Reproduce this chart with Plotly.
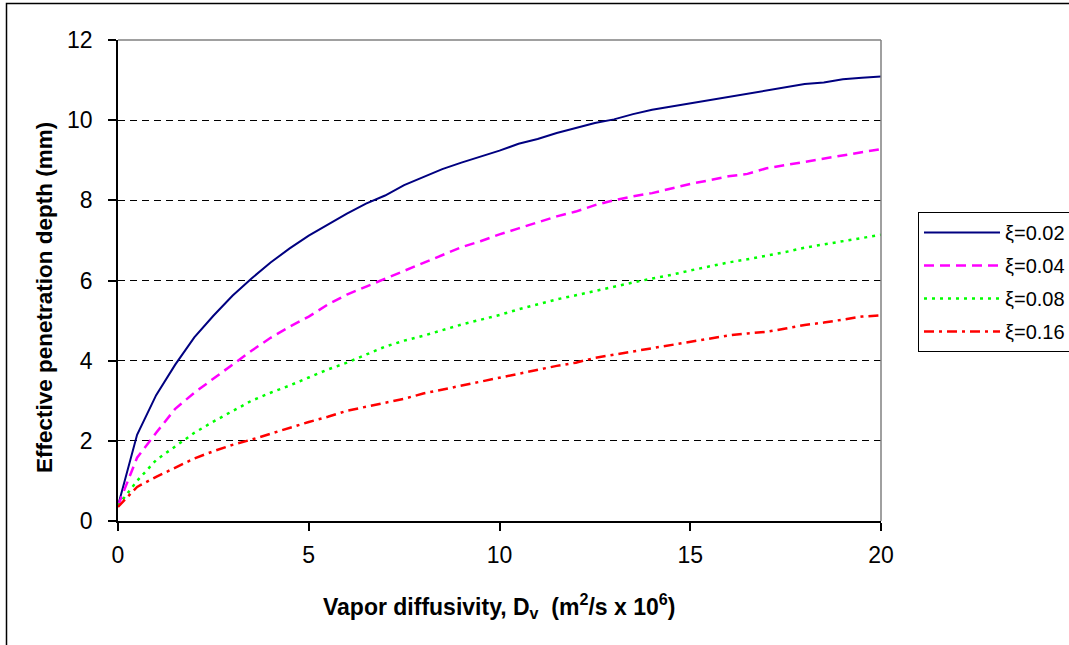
import plotly.graph_objects as go

x_vals = [0, 0.5, 1, 1.5, 2, 2.5, 3, 3.5, 4, 4.5, 5, 5.5, 6, 6.5, 7, 7.5, 8, 8.5, 9, 9.5,
          10, 10.5, 11, 11.5, 12, 12.5, 13, 13.5, 14, 14.5, 15, 15.5, 16, 16.5, 17, 17.5,
          18, 18.5, 19, 19.5, 20]

xi_002 = [0.38, 2.15, 3.14, 3.9, 4.58, 5.12, 5.62, 6.05, 6.45, 6.8, 7.12, 7.4, 7.67, 7.92,
          8.12, 8.38, 8.58, 8.78, 8.94, 9.09, 9.24, 9.41, 9.53, 9.68, 9.8, 9.93, 10.02,
          10.15, 10.26, 10.34, 10.42, 10.5, 10.58, 10.66, 10.74, 10.82, 10.9, 10.94,
          11.02, 11.06, 11.09]

xi_004 = [0.38, 1.58, 2.2, 2.8, 3.2, 3.55, 3.9, 4.25, 4.57, 4.85, 5.1, 5.4, 5.65, 5.85,
          6.04, 6.25, 6.45, 6.65, 6.83, 6.98, 7.15, 7.3, 7.45, 7.6, 7.72, 7.88, 8.0, 8.1,
          8.18, 8.3, 8.41, 8.5, 8.6, 8.66, 8.8, 8.88, 8.96, 9.04, 9.12, 9.2, 9.28]

xi_008 = [0.38, 1.0, 1.52, 1.86, 2.2, 2.48, 2.75, 3.0, 3.2, 3.38, 3.58, 3.78, 3.95, 4.15,
          4.35, 4.5, 4.62, 4.76, 4.9, 5.02, 5.14, 5.28, 5.4, 5.53, 5.63, 5.74, 5.85, 5.95,
          6.05, 6.14, 6.25, 6.35, 6.45, 6.53, 6.62, 6.71, 6.82, 6.9, 6.98, 7.06, 7.14]

xi_016 = [0.35, 0.85, 1.1, 1.33, 1.56, 1.74, 1.9, 2.03, 2.18, 2.33, 2.47, 2.6, 2.75, 2.85,
          2.95, 3.05, 3.18, 3.28, 3.38, 3.47, 3.58, 3.68, 3.78, 3.87, 3.95, 4.07, 4.15,
          4.23, 4.3, 4.38, 4.46, 4.55, 4.63, 4.68, 4.72, 4.8, 4.89, 4.95, 5.02, 5.1, 5.13]

series_names = ["ξ=0.02", "ξ=0.04", "ξ=0.08", "ξ=0.16"]
x_ticks = [0, 5, 10, 15, 20]
y_ticks = [0, 2, 4, 6, 8, 10, 12]

FONT = "Arial, 'Liberation Sans', sans-serif"

styles = [
    dict(color="#000080", width=2, dash="solid"),
    dict(color="#FF00FF", width=2.5, dash="10px,6px"),
    dict(color="#00FF00", width=2.5, dash="3px,5px"),
    dict(color="#FF0000", width=2.5, dash="10px,5px,3px,5px"),
]

fig = go.Figure()
for i, (name, ys) in enumerate(zip(series_names, [xi_002, xi_004, xi_008, xi_016])):
    fig.add_trace(go.Scatter(x=x_vals, y=ys, mode="lines", name=name,
                             line=styles[i], legendgroup=f"g{i}"))

L, R, T, B = 118, 188, 40, 124
W, H = 1069, 645
pw, ph = W - L - R, H - T - B

def px_x(p):
    return (p - L) / pw

def px_y(p):
    return (H - B - p) / ph

fig.update_layout(
    width=W, height=H,
    margin=dict(l=L, r=R, t=T, b=B, pad=0, autoexpand=False),
    paper_bgcolor="white", plot_bgcolor="white",
    font=dict(family=FONT, size=21, color="black"),
    showlegend=True,
    legend=dict(
        xref="container", yref="container",
        x=918 / W, y=1 - 212 / H, xanchor="left", yanchor="top",
        bgcolor="white", bordercolor="black", borderwidth=1,
        font=dict(family=FONT, size=20, color="black"),
        tracegroupgap=4, itemwidth=76,
    ),
    xaxis=dict(
        range=[0, 20], tickvals=x_ticks, ticktext=[str(v) for v in x_ticks],
        showgrid=False, zeroline=False,
        showline=True, linecolor="black", linewidth=1.5,
        ticks="outside", ticklen=8, tickcolor="black", tickwidth=1.5,
        tickfont=dict(family=FONT, size=23, color="black"),
        ticklabelstandoff=5,
    ),
    yaxis=dict(
        range=[0, 12], tickvals=y_ticks, ticktext=[str(v) for v in y_ticks],
        showgrid=True, gridcolor="black", gridwidth=1, griddash="7px,5px",
        zeroline=False,
        showline=True, linecolor="black", linewidth=1.5,
        ticks="outside", ticklen=8, tickcolor="black", tickwidth=1.5,
        tickfont=dict(family=FONT, size=23, color="black"),
        ticklabelstandoff=11,
    ),
    shapes=[
        dict(type="line", xref="paper", yref="paper", x0=0, x1=1, y0=1, y1=1,
             line=dict(color="#808080", width=1.5), layer="above"),
        dict(type="line", xref="paper", yref="paper", x0=1, x1=1, y0=0, y1=1,
             line=dict(color="#808080", width=1.5), layer="above"),
        dict(type="rect", xref="paper", yref="paper",
             x0=px_x(6.5), x1=px_x(1080), y0=px_y(660), y1=px_y(3.5),
             line=dict(color="black", width=1.5), layer="below"),
    ],
    annotations=[
        dict(text="Vapor diffusivity, D<sub>v</sub>  (m<sup>2</sup>/s x 10<sup>6</sup>)",
             xref="paper", yref="paper", x=px_x(499), y=px_y(606),
             xanchor="center", yanchor="middle", showarrow=False,
             font=dict(family=FONT, size=23, color="black", weight="bold")),
        dict(text="Effective penetration depth (mm)",
             xref="paper", yref="paper", x=px_x(45), y=px_y(298),
             xanchor="center", yanchor="middle", showarrow=False, textangle=-90,
             font=dict(family=FONT, size=22.5, color="black", weight="bold")),
    ],
)

fig.write_html("out.html")
